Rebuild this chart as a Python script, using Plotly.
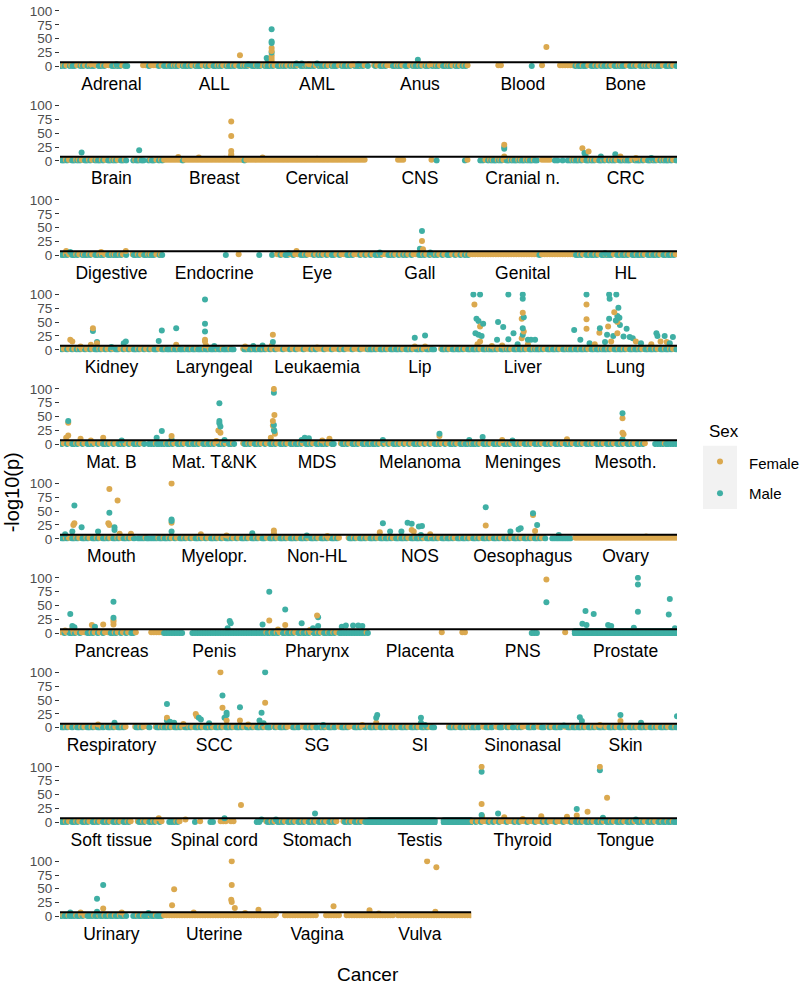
import math
import plotly.graph_objects as go

# ---------------- data ----------------
FEMALE_COLOR = "#DBA94F"
MALE_COLOR = "#3FAFA4"

row1 = ["Adrenal", "ALL", "AML", "Anus", "Blood", "Bone"]
row2 = ["Brain", "Breast", "Cervical", "CNS", "Cranial n.", "CRC"]
row3 = ["Digestive", "Endocrine", "Eye", "Gall", "Genital", "HL"]
row4 = ["Kidney", "Laryngeal", "Leukaemia", "Lip", "Liver", "Lung"]
row5 = ["Mat. B", "Mat. T&NK", "MDS", "Melanoma", "Meninges", "Mesoth."]
row6 = ["Mouth", "Myelopr.", "Non-HL", "NOS", "Oesophagus", "Ovary"]
row7 = ["Pancreas", "Penis", "Pharynx", "Placenta", "PNS", "Prostate"]
row8 = ["Respiratory", "SCC", "SG", "SI", "Sinonasal", "Skin"]
row9 = ["Soft tissue", "Spinal cord", "Stomach", "Testis", "Thyroid", "Tongue"]
row10 = ["Urinary", "Uterine", "Vagina", "Vulva"]
rows = [row1, row2, row3, row4, row5, row6, row7, row8, row9, row10]

# near-zero band read slot by slot: F female, M male, B both, D dense male, . empty
baseline = {
    "Adrenal": "MBFBBMFBBFMBBFBMBFFBMBBFBM.....FFBFFFMF",
    "ALL": "MMBMBBFBBMBFBBMFBBFBMBBFBBMBFBMBBFBMBBFB",
    "AML": "BMBFBMBBFMBBFBMBBMBFBBMBFBBMFBBMBFBBMBFB",
    "Anus": "..BFBMBFFBMBBFBMFBBMBFBBFMBBFBMBBFBBFMBF.",
    "Blood": "..........FF...........M...F......FFFFFF",
    "Bone": "MBMBMFBMBFMBMBFBMBBMFBMBFBMBBFMBBMFBMBFB",
    "Brain": "BMBFBMBBFBMBFBBMBFBMBBFBMB..MBMBM.MBMFMB",
    "Breast": "FFFFFFFBFFFFFFFFFFFFFFFFFFFFFFFBFFFFFFFF",
    "Cervical": "FFFFFFFFFFFFFFFFFFFFFFFFFFFFFFFFFFFFFFF.",
    "CNS": "...........FFF..........F.M..........MF.",
    "Cranial n.": "...MMFMBBMBBFBMBBMBBMBBMBM.FFFF.MM.M.MMB",
    "CRC": "BMBFBMBBFBMBFMBBFBMBBMFBBMBFBMBBFMBBMBFB",
    "Digestive": "BMBFBMBFBBMBFBMBBFBMBBMBFB..BMBFBMBBMFBB",
    "Endocrine": "........................M....F.......M..",
    "Eye": "..M.FBFBMFBFFBMBFFBFMBFBFBMFBFFBMBFFBFBF",
    "Gall": "BFBMBFFBMBFBFMBFBFFBMBFBFMBFBFBMFBFBFMBF",
    "Genital": "FFFFFFFFFFFFFFFFFFFFFFFFFFMFFFFFFFFFFFFF",
    "HL": "BMBFBMBMBFBMBBMFBMBMBFBMBMBFBMBMBFBMBMBF",
    "Kidney": "BFBFBFMBFBFBFBMBFBFBFBMFBFBFBMBFBFBFBMFB",
    "Laryngeal": "MBMMBMBMMBMBMBMMBMBMMBMBMMBM...BMBMBMBMB",
    "Leukaemia": "FBFBFFBFFMFBFFBFFBFMFFBFFBFFBFMFFBFFBFFB",
    "Lip": "BMBFBMBFBMBMBFBMBFBMBFBMBM..BMBFBMBMBFBM",
    "Liver": "BMBFBMBBMBFBMBBFBMBMBFBMBBMBFBMBMBFBMBBM",
    "Lung": "BMBMBFBMBMBBMBFBMBMBFBMBMBFBMBMBFBMBMBFB",
    "Mat. B": "BFBFBMBFBFBMBFBFBMBFBFBMBFBFBMBFB.MMMBMM",
    "Mat. T&NK": "MBMBFBMBFBMBMBFBMBMBFBMBFBMB...BMBFBMBFB",
    "MDS": "FBMBFBMBFBMBMBFBMBFBMBMBFBM..BMBFBMBFBMB",
    "Melanoma": "MBMBFBFBFBMBFBFBFBMBFBFBFBMBFBFBMBFBMBMB",
    "Meninges": "BMBFBMBFBMBFBMBFBMBFBMBFBMBFBMBFBMBFBMBF",
    "Mesoth.": "BMBFBMBFBMBFBMBFBMBFBMBFBMBF...MMMMBMMMM",
    "Mouth": "BMBFBMBFBMBFBMBFBMBFBMBFBMBFB.MMMBMMMMBM",
    "Myelopr.": "BMBFBFBMBFBFBMBFBFBMBFBFBMBFBFBMBFBMBFBM",
    "Non-HL": "FBMBFBMBFBMBFBMBFBMBFBMBFBMBF...BMBFBMBF",
    "NOS": "BMBFBMBMBFBMBMBFBMBMBFBMBMBFBMBMBFBMBMBF",
    "Oesophagus": "BMBFBMBFBMBFBMBFBMBFBMBFBMBFB..MMMMMMMM.",
    "Ovary": "FFFFFFFFFFFFFFFFFFFFFFFFFFFFFFFFFFFFFFFF",
    "Pancreas": "FBFBMBFBFFBMBFBFBFFBMBFBFBFBMF.....FFFFF",
    "Penis": "MMMMMMMM...MMMMMMMMMMMMMMMMMMMMMMMMMMMMM",
    "Pharynx": "BMBMBFBMBMBFBMBMBFBMBFBMBMBFBMMMMMMMMMMB",
    "Placenta": "............................F.......FF..",
    "PNS": ".......................MMM..........F...",
    "Prostate": "DDDDDDDDDDDDDDDDDDDDDDDDDDDDDDDDDDDDDDDD",
    "Respiratory": "BMBFB.BMBFBMBFBMB.BMBFBMBF...BMBF.B..BMB",
    "SCC": "BMBFBMBFBMBFBMBFBMBFBMBFBMBFBMBFBMBFBMBF",
    "SG": "BM.BFBMBF.BMB.FBMBFB.MBFBMB.FBMBF.BMBFB.",
    "SI": "BMBFBMBFBMBFBMBFBMBFBMBFBM.....BMBFBMBFB",
    "Sinonasal": "BMB.FBMB.FBM.BFB.MBF.BMB.FBM.BFBMB.FBMB",
    "Skin": "MBMBFBMBFBMBFBMBFBMBFBMBFBMBFBMBFBMBFBMB",
    "Soft tissue": "BMBFBMBFBMBFBMBFBMBFBMBFBMBF..BMBFBMBFBF",
    "Spinal cord": "..MMMBF.....M.F...MM..FFF.FF........MM..",
    "Stomach": "BMBFBMBFBMBFBMBFBMBFBMBFBMBF..BMBFBMBFBM",
    "Testis": "DDDDDDDDDDDDDDDDDDDDDDDDDD...DDDDDDDDDDD",
    "Thyroid": "FBFBFFBFMFBFFBFFBFMFFBFFBFFBFMFFBFFBFFBF",
    "Tongue": "BMBFBMBFBMBFBMBFBMBFBMBFBMBFBMBFBMBMBMBM",
    "Urinary": "MBMBMMBMBFBMMBMBMBMBMBMBMB..MMBMBMMBMBMM",
    "Uterine": "FFFFFFFFFFFFFFFFFFFFFFFFFFFFFFFFFFFFFFFF",
    "Vagina": "FFFF...FFFFFFFFFFFFF...FFFFFF..FFFFFFFFF",
    "Vulva": "FFFFFFFFFF.FFFFFFFFFFFFFFFFFFFFFFFFFFFFF",
}

# raised points: (position within the cancer's block 0-1, -log10(p), sex)
peaks = {
    "Adrenal": [(0.3, 4, "F"), (0.55, 4, "M")],
    "ALL": [(0.75, 20, "F"), (0.83, 4, "M"), (0.92, 3, "M")],
    "AML": [(0.01, 15, "M"), (0.02, 12, "M"), (0.058, 10, "F"), (0.058, 15, "F"),
            (0.058, 20, "F"), (0.058, 25, "M"), (0.058, 28, "F"), (0.058, 33, "F"),
            (0.058, 42, "M"), (0.058, 45, "M"), (0.058, 67, "M"),
            (0.3, 5, "M"), (0.35, 5, "M"), (0.42, 4, "F"), (0.5, 5, "M"),
            (0.85, 4, "F"), (0.9, 4, "M")],
    "Anus": [(0.48, 12, "M"), (0.6, 4, "F")],
    "Blood": [(0.73, 35, "F")],
    "Brain": [(0.21, 15, "M"), (0.77, 19, "M")],
    "Breast": [(0.15, 7, "F"), (0.35, 6, "F"), (0.6, 4, "F"), (0.97, 6, "F"),
               (0.665, 9, "F"), (0.665, 12, "F"), (0.665, 18, "F"),
               (0.665, 45, "F"), (0.665, 71, "F")],
    "Cervical": [(0.5, 4, "F")],
    "Cranial n.": [(0.32, 8, "F"), (0.32, 22, "M"), (0.32, 25, "M"), (0.32, 29, "F")],
    "CRC": [(0.08, 23, "F"), (0.1, 14, "M"), (0.11, 10, "M"), (0.14, 17, "F"),
            (0.26, 8, "M"), (0.4, 12, "M"), (0.45, 8, "F"), (0.6, 5, "F"), (0.75, 5, "M")],
    "Digestive": [(0.06, 8, "F"), (0.1, 6, "M"), (0.4, 6, "F"), (0.64, 8, "F")],
    "Eye": [(0.3, 8, "F"), (0.22, 4, "M")],
    "Gall": [(0.11, 5, "M"), (0.6, 5, "M"), (0.5, 12, "M"), (0.53, 11, "F"),
             (0.52, 26, "F"), (0.52, 44, "M")],
    "HL": [(0.3, 4, "M")],
    "Kidney": [(0.1, 18, "F"), (0.12, 15, "F"), (0.2, 6, "F"), (0.3, 9, "F"),
               (0.32, 34, "M"), (0.32, 39, "F"), (0.36, 14, "M"), (0.36, 12, "F"),
               (0.5, 5, "M"), (0.62, 12, "M"), (0.64, 15, "M"), (0.96, 16, "M"),
               (0.99, 35, "M")],
    "Laryngeal": [(0.13, 9, "F"), (0.13, 39, "M"), (0.41, 15, "F"), (0.41, 18, "F"),
                  (0.41, 33, "M"), (0.41, 47, "M"), (0.41, 91, "M"), (0.42, 8, "F"),
                  (0.5, 7, "M"), (0.8, 6, "F"), (0.88, 7, "M"), (0.97, 8, "M")],
    "Leukaemia": [(0.06, 8, "F"), (0.07, 14, "M"), (0.07, 27, "F"), (0.5, 4, "F")],
    "Lip": [(0.45, 6, "F"), (0.55, 6, "F"), (0.45, 22, "M"), (0.55, 26, "M")],
    "Liver": [(0.06, 10, "F"), (0.085, 15, "F"), (0.04, 30, "M"), (0.07, 27, "M"),
              (0.1, 25, "M"), (0.05, 56, "M"), (0.07, 52, "M"), (0.085, 42, "F"),
              (0.115, 47, "M"), (0.03, 82, "F"), (0.02, 100, "M"), (0.085, 100, "M"),
              (0.2, 7, "F"), (0.3, 8, "F"), (0.25, 18, "M"), (0.26, 50, "M"),
              (0.31, 41, "M"), (0.36, 19, "M"), (0.41, 30, "M"), (0.36, 100, "M"),
              (0.45, 10, "M"), (0.55, 10, "F"), (0.49, 21, "F"), (0.5, 27, "M"),
              (0.51, 33, "F"), (0.5, 39, "M"), (0.49, 56, "F"), (0.51, 59, "M"),
              (0.5, 67, "F"), (0.5, 92, "M"), (0.5, 100, "M"), (0.55, 18, "M"),
              (0.58, 18, "M"), (0.62, 18, "M")],
    "Lung": [(0.0, 36, "M"), (0.06, 18, "M"), (0.15, 12, "M"), (0.2, 10, "F"),
             (0.12, 38, "F"), (0.12, 55, "F"), (0.12, 82, "F"), (0.12, 100, "M"),
             (0.245, 31, "F"), (0.25, 39, "M"), (0.3, 14, "M"), (0.36, 15, "F"),
             (0.32, 27, "M"), (0.38, 25, "M"), (0.42, 30, "F"), (0.33, 42, "F"),
             (0.445, 45, "M"), (0.42, 50, "F"), (0.405, 53, "M"), (0.34, 56, "M"),
             (0.44, 58, "M"), (0.42, 61, "M"), (0.39, 68, "F"), (0.43, 76, "M"),
             (0.345, 92, "M"), (0.34, 100, "M"), (0.41, 100, "M"), (0.51, 38, "M"),
             (0.48, 24, "M"), (0.54, 23, "M"), (0.57, 21, "M"), (0.6, 15, "F"),
             (0.65, 12, "M"), (0.75, 10, "F"), (0.84, 15, "F"), (0.9, 14, "F"),
             (0.93, 12, "M"), (0.8, 30, "M"), (0.81, 25, "M"), (0.88, 25, "M"),
             (0.96, 23, "M")],
    "Mat. B": [(0.06, 12, "F"), (0.08, 16, "F"), (0.08, 39, "F"), (0.08, 42, "M"),
               (0.2, 10, "F"), (0.3, 7, "F"), (0.42, 12, "F"), (0.6, 7, "M"),
               (0.94, 12, "M"), (0.99, 24, "M")],
    "Mat. T&NK": [(0.085, 9, "M"), (0.085, 15, "F"), (0.52, 6, "F"), (0.6, 8, "M"),
                  (0.54, 25, "F"), (0.56, 21, "F"), (0.56, 32, "M"), (0.55, 38, "M"),
                  (0.55, 42, "M"), (0.55, 74, "M")],
    "MDS": [(0.05, 12, "F"), (0.09, 19, "F"), (0.085, 24, "M"), (0.08, 26, "M"),
            (0.07, 34, "F"), (0.08, 35, "M"), (0.07, 42, "F"), (0.085, 53, "F"),
            (0.08, 93, "M"), (0.08, 100, "F"), (0.35, 8, "M"), (0.38, 12, "M"),
            (0.42, 11, "M"), (0.55, 7, "F"), (0.62, 10, "F")],
    "Melanoma": [(0.14, 8, "M"), (0.69, 15, "F"), (0.69, 19, "M"), (0.98, 8, "M")],
    "Meninges": [(0.11, 13, "M"), (0.3, 8, "F"), (0.4, 7, "M"), (0.93, 9, "F")],
    "Mesoth.": [(0.47, 9, "M"), (0.48, 18, "F"), (0.47, 21, "F"), (0.47, 47, "F"),
                (0.47, 56, "M")],
    "Mouth": [(0.05, 8, "M"), (0.12, 13, "M"), (0.13, 25, "F"), (0.14, 28, "F"),
              (0.14, 60, "M"), (0.21, 21, "M"), (0.37, 13, "M"), (0.47, 28, "F"),
              (0.48, 25, "F"), (0.48, 47, "M"), (0.48, 90, "F"), (0.53, 16, "M"),
              (0.53, 21, "M"), (0.56, 69, "F"), (0.58, 9, "F"), (0.69, 9, "F")],
    "Myelopr.": [(0.085, 13, "M"), (0.085, 29, "F"), (0.085, 32, "M"), (0.085, 35, "M"),
                 (0.085, 100, "F"), (0.37, 8, "F"), (0.62, 6, "F"), (0.87, 10, "M")],
    "Non-HL": [(0.08, 10, "F"), (0.08, 15, "F"), (0.4, 6, "M"), (0.6, 5, "F")],
    "NOS": [(0.11, 12, "F"), (0.14, 28, "M"), (0.21, 13, "M"), (0.32, 13, "M"),
            (0.42, 16, "F"), (0.44, 13, "F"), (0.38, 29, "M"), (0.42, 27, "M"),
            (0.49, 22, "M"), (0.52, 23, "M"), (0.51, 7, "M"), (0.6, 8, "F")],
    "Oesophagus": [(0.14, 24, "F"), (0.14, 57, "M"), (0.38, 13, "M"), (0.46, 17, "M"),
                   (0.48, 19, "M"), (0.62, 14, "F"), (0.64, 25, "M"), (0.6, 43, "F"),
                   (0.6, 46, "M"), (0.85, 7, "M")],
    "Ovary": [(0.7, 4, "F")],
    "Pancreas": [(0.05, 5, "F"), (0.1, 35, "M"), (0.12, 8, "F"), (0.12, 13, "M"),
                 (0.14, 11, "M"), (0.31, 15, "F"), (0.34, 12, "M"), (0.42, 16, "F"),
                 (0.52, 16, "F"), (0.52, 21, "F"), (0.52, 24, "F"), (0.52, 28, "M"),
                 (0.52, 57, "M")],
    "Penis": [(0.63, 9, "M"), (0.65, 22, "M"), (0.66, 18, "M"), (0.97, 16, "M")],
    "Pharynx": [(0.035, 23, "F"), (0.035, 75, "M"), (0.12, 7, "F"), (0.19, 15, "F"),
                (0.19, 43, "M"), (0.35, 18, "M"), (0.43, 6, "F"), (0.46, 9, "M"),
                (0.51, 13, "M"), (0.51, 29, "M"), (0.5, 32, "F"), (0.74, 12, "M"),
                (0.78, 14, "M"), (0.85, 14, "M"), (0.9, 14, "M"), (0.94, 13, "M")],
    "PNS": [(0.73, 56, "M"), (0.73, 97, "F")],
    "Prostate": [(0.08, 17, "M"), (0.12, 15, "M"), (0.11, 40, "M"), (0.19, 35, "M"),
                 (0.33, 15, "M"), (0.36, 13, "M"), (0.58, 10, "M"), (0.62, 39, "M"),
                 (0.62, 88, "M"), (0.62, 100, "M"), (0.92, 34, "M"), (0.93, 62, "M"),
                 (0.98, 9, "M")],
    "Respiratory": [(0.37, 6, "F"), (0.53, 9, "M")],
    "SCC": [(0.04, 13, "M"), (0.04, 18, "F"), (0.04, 43, "M"), (0.07, 11, "M"),
            (0.11, 9, "M"), (0.2, 7, "F"), (0.32, 25, "F"), (0.33, 21, "F"),
            (0.35, 18, "M"), (0.37, 15, "M"), (0.45, 8, "M"), (0.6, 18, "M"),
            (0.62, 13, "F"), (0.62, 23, "M"), (0.62, 27, "M"), (0.58, 36, "F"),
            (0.58, 58, "M"), (0.56, 100, "F"), (0.75, 13, "F"), (0.75, 37, "M"),
            (0.83, 6, "F"), (0.94, 13, "M"), (0.96, 27, "M"), (0.98, 8, "M"),
            (0.995, 45, "F"), (0.995, 100, "M")],
    "SG": [(0.56, 5, "M"), (0.94, 5, "F")],
    "SI": [(0.075, 9, "F"), (0.075, 18, "M"), (0.085, 23, "M"), (0.51, 9, "M"),
           (0.51, 18, "M"), (0.55, 5, "M")],
    "Sinonasal": [(0.9, 4, "M")],
    "Skin": [(0.055, 19, "M"), (0.075, 12, "M"), (0.25, 5, "F"), (0.45, 12, "F"),
             (0.45, 23, "M"), (0.65, 9, "M"), (1.0, 21, "M")],
    "Soft tissue": [(0.96, 7, "F")],
    "Spinal cord": [(0.22, 5, "F"), (0.6, 7, "M"), (0.76, 31, "F"), (0.96, 5, "M")],
    "Stomach": [(0.1, 5, "M"), (0.48, 16, "M")],
    "Thyroid": [(0.105, 11, "F"), (0.1, 13, "M"), (0.1, 33, "F"), (0.1, 91, "M"),
                (0.1, 100, "F"), (0.26, 16, "M"), (0.32, 9, "F"), (0.5, 6, "F"),
                (0.68, 11, "F"), (0.93, 10, "F")],
    "Tongue": [(0.025, 12, "F"), (0.025, 24, "M"), (0.13, 19, "F"), (0.28, 8, "M"),
               (0.25, 94, "M"), (0.25, 100, "F"), (0.32, 44, "F"), (0.6, 5, "M")],
    "Urinary": [(0.1, 7, "M"), (0.2, 7, "F"), (0.36, 8, "M"), (0.36, 32, "M"),
                (0.42, 14, "F"), (0.42, 57, "M"), (0.6, 7, "F"), (0.86, 6, "M")],
    "Uterine": [(0.09, 20, "F"), (0.11, 49, "F"), (0.3, 7, "F"), (0.665, 30, "F"),
                (0.67, 26, "F"), (0.67, 57, "F"), (0.67, 100, "F"), (0.7, 15, "F"),
                (0.8, 6, "F"), (0.93, 12, "F")],
    "Vagina": [(0.1, 4, "F"), (0.66, 18, "F")],
    "Vulva": [(0.01, 11, "F"), (0.1, 5, "F"), (0.57, 100, "F"), (0.65, 8, "F"),
              (0.66, 89, "F")],
}

band_level_female = 2.0
band_level_male = 0.5
dense_levels = [-0.5, 3.5]
threshold = -math.log10(5e-8)
y_ticks = [0, 25, 50, 75, 100]

# ---------------- geometry ----------------
W, H = 800, 984
ML, MR, MT, MB = 60, 10, 3, 65
PW = W - ML - MR
PH = H - MT - MB
panel_px_w = 617
row_pitch = 95
panel_top0 = 3.2
panel_h = 61.3
DOT = 6


def px_x(x):
    return (x - ML) / PW


def px_y(y):
    return (H - MB - y) / PH


col = {"F": FEMALE_COLOR, "M": MALE_COLOR}
fig = go.Figure()
layout = {}

for r, names in enumerate(rows):
    idx = "" if r == 0 else str(r + 1)
    xs, ys, cs = [], [], []
    for g, name in enumerate(names):
        pat = baseline.get(name, "")
        n = max(len(pat), 1)
        for i, ch in enumerate(pat):
            left = g + (i + 0.25) / n
            mid = g + (i + 0.5) / n
            right = g + (i + 0.75) / n
            if ch == "F":
                xs.append(mid); ys.append(band_level_female); cs.append(FEMALE_COLOR)
            elif ch == "M":
                xs.append(mid); ys.append(band_level_male); cs.append(MALE_COLOR)
            elif ch == "B":
                xs.append(left); ys.append(band_level_female); cs.append(FEMALE_COLOR)
                xs.append(right); ys.append(band_level_male); cs.append(MALE_COLOR)
            elif ch == "D":
                for lv in dense_levels:
                    xs.append(left); ys.append(lv); cs.append(MALE_COLOR)
                    xs.append(right); ys.append(lv); cs.append(MALE_COLOR)
        for frac, yv, s in peaks.get(name, []):
            xs.append(g + frac); ys.append(yv); cs.append(col[s])
    xa = "x" + idx
    ya = "y" + idx
    fig.add_trace(go.Scatter(x=xs, y=ys, mode="markers", xaxis=xa, yaxis=ya,
                             marker=dict(color=cs, size=DOT, line=dict(width=0)),
                             showlegend=False, hoverinfo="skip"))
    ng = len(names)
    fig.add_trace(go.Scatter(x=[0, ng], y=[threshold, threshold], mode="lines",
                             xaxis=xa, yaxis=ya, line=dict(color="black", width=2),
                             showlegend=False, hoverinfo="skip"))
    top = panel_top0 + r * row_pitch
    bot = top + panel_h
    dom_w = panel_px_w * ng / 6 / PW
    layout["xaxis" + idx] = dict(
        domain=[0, dom_w], range=[0, ng], tickvals=[g + 0.5 for g in range(ng)],
        ticktext=names, ticks="", ticklabelstandoff=2,
        tickfont=dict(size=17.5, color="black"), showgrid=False, zeroline=False,
        showline=False, anchor=ya, fixedrange=True)
    layout["yaxis" + idx] = dict(
        domain=[max(0, px_y(bot)), min(1, px_y(top))], range=[-5, 105],
        tickvals=y_ticks, ticks="outside", ticklen=4, tickcolor="#333333",
        tickwidth=1, tickfont=dict(size=13.5, color="#4D4D4D"), showgrid=False,
        zeroline=False, showline=False, anchor=xa, fixedrange=True)

# legend built on its own small axes
lx0, lx1 = px_x(703), px_x(737)
ly0, ly1 = px_y(507), px_y(443)
layout["xaxis11"] = dict(domain=[lx0, lx1], range=[0, 1], visible=False, anchor="y11",
                         fixedrange=True)
layout["yaxis11"] = dict(domain=[ly0, ly1], range=[0, 2], visible=False, anchor="x11",
                         fixedrange=True)
legend_labels = ["Female", "Male"]
legend_colors = [FEMALE_COLOR, MALE_COLOR]
legend_y = [1.5, 0.5]
fig.add_trace(go.Scatter(x=[0.5, 0.5], y=legend_y, mode="markers", xaxis="x11",
                         yaxis="y11", marker=dict(color=legend_colors, size=DOT),
                         showlegend=False, hoverinfo="skip"))

shapes = [dict(type="rect", xref="x11", yref="y11", x0=0, x1=1, y0=0, y1=2,
               fillcolor="#F2F2F2", line=dict(width=0), layer="below")]

annotations = [
    dict(text="Sex", x=px_x(707), y=px_y(429), xref="paper", yref="paper",
         xanchor="left", yanchor="middle", showarrow=False,
         font=dict(size=17, color="black")),
    dict(text="-log10(p)", x=px_x(12), y=px_y(490), xref="paper", yref="paper",
         xanchor="center", yanchor="middle", textangle=-90, showarrow=False,
         font=dict(size=20, color="black")),
    dict(text="Cancer", x=px_x(368), y=px_y(975), xref="paper", yref="paper",
         xanchor="center", yanchor="middle", showarrow=False,
         font=dict(size=19, color="black")),
]
for lab, ypx in zip(legend_labels, [461, 491]):
    annotations.append(dict(text=lab, x=px_x(747), y=px_y(ypx), xref="paper",
                            yref="paper", xanchor="left", yanchor="middle",
                            showarrow=False, font=dict(size=15, color="black")))

fig.update_layout(
    width=W, height=H, margin=dict(l=ML, r=MR, t=MT, b=MB),
    paper_bgcolor="white", plot_bgcolor="white",
    font=dict(family="Liberation Sans, Arial, sans-serif"),
    shapes=shapes, annotations=annotations, showlegend=False, **layout)

fig.write_html("out.html", config={"displayModeBar": False},
               post_script="document.body.style.margin='0';document.body.style.padding='0';")
